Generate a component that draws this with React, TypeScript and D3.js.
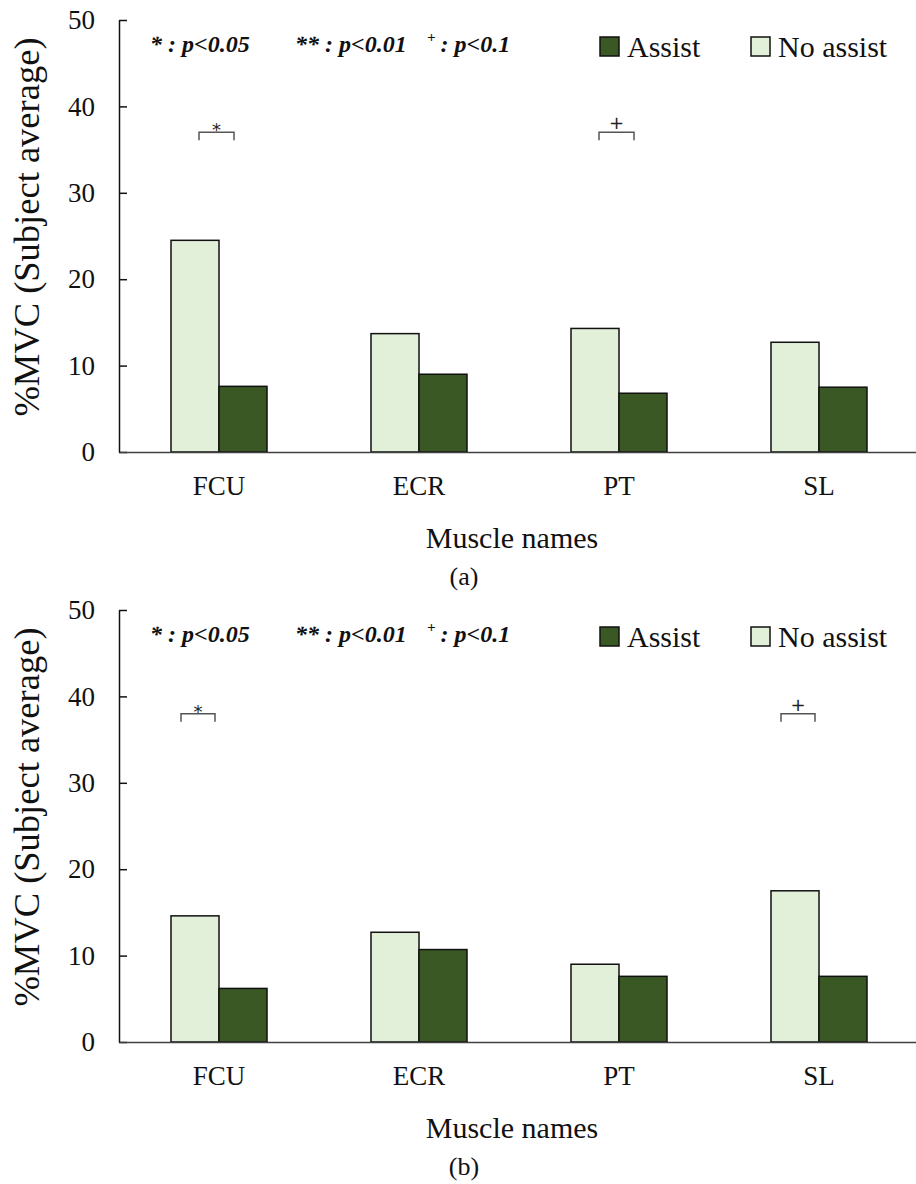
import React, {useEffect, useRef} from 'react';
import * as d3 from 'd3';

const muscles = ['FCU', 'ECR', 'PT', 'SL'];
const seriesNames = ['No assist', 'Assist'];
const noAssistA = [24.5, 13.7, 14.3, 12.7];
const assistA = [7.6, 9.0, 6.8, 7.5];
const noAssistB = [14.6, 12.7, 9.0, 17.5];
const assistB = [6.2, 10.7, 7.6, 7.6];
const yTicks = [0, 10, 20, 30, 40, 50];
const sigA = [{muscle: 'FCU', mark: '*', level: 37}, {muscle: 'PT', mark: '+', level: 37}];
const sigB = [{muscle: 'FCU', mark: '*', level: 38}, {muscle: 'SL', mark: '+', level: 38}];

const serif = '"Liberation Serif", "Times New Roman", serif';
const colors: Record<string, string> = {'No assist': '#E2EFD9', 'Assist': '#3A5824'};

interface PanelCfg {
    noAssist: number[];
    assist: number[];
    sig: {muscle: string; mark: string; level: number}[];
    top: number;
    caption: string;
    bracket: [number, number];
}

const panels: PanelCfg[] = [
    {noAssist: noAssistA, assist: assistA, sig: sigA, top: 0, caption: '(a)', bracket: [-20, 15]},
    {noAssist: noAssistB, assist: assistB, sig: sigB, top: 590, caption: '(b)', bracket: [-38, -4]},
];

const App: React.FC = () => {
    const svgRef = useRef<SVGSVGElement | null>(null);

    useEffect(() => {
        const svg = d3.select(svgRef.current);
        svg.selectAll('*').remove();
        const left = 119, right = 919, plotTop = 20, plotBottom = 452;

        panels.forEach(p => {
            const g = svg.append('g').attr('transform', `translate(0, ${p.top})`);

            const x = d3.scaleBand().domain(muscles).range([left, right]);
            const xSub = d3.scaleBand().domain(seriesNames).range([-48, 48]);
            const y = d3.scaleLinear().domain([0, 50]).range([plotBottom, plotTop]);

            // bars
            const rows = muscles.map((m, i) => ({muscle: m, 'No assist': p.noAssist[i], 'Assist': p.assist[i]}));
            rows.forEach(r => {
                const c = x(r.muscle)! + x.bandwidth() / 2;
                seriesNames.forEach(s => {
                    const v = (r as any)[s] as number;
                    g.append('rect')
                        .attr('x', c + xSub(s)!)
                        .attr('y', y(v))
                        .attr('width', xSub.bandwidth())
                        .attr('height', y(0) - y(v))
                        .attr('fill', colors[s])
                        .attr('stroke', '#111')
                        .attr('stroke-width', 1.5);
                });
            });

            // y axis
            const yAxis = g.append('g')
                .attr('transform', `translate(${left}, 0)`)
                .call(d3.axisLeft(y).tickValues(yTicks).tickSize(-8).tickPadding(24).tickSizeOuter(0));
            yAxis.select('.domain').attr('stroke', '#111').attr('stroke-width', 1.5);
            yAxis.selectAll('.tick line').attr('stroke', '#111').attr('stroke-width', 1.5);
            yAxis.selectAll('.tick text')
                .attr('font-family', serif).attr('font-size', 27).attr('fill', '#111');

            // x axis
            const xAxis = g.append('g')
                .attr('transform', `translate(0, ${plotBottom})`)
                .call(d3.axisBottom(x).tickSize(0).tickPadding(24));
            xAxis.select('.domain').attr('stroke', '#404040').attr('stroke-width', 1.5);
            xAxis.selectAll('.tick text')
                .attr('font-family', serif).attr('font-size', 27).attr('fill', '#111');

            // axis titles
            g.append('text')
                .attr('transform', `translate(39, 227) rotate(-90)`)
                .attr('text-anchor', 'middle')
                .attr('font-family', serif).attr('font-size', 36.5).attr('fill', '#111')
                .text('%MVC (Subject average)');
            g.append('text')
                .attr('x', 512).attr('y', 548)
                .attr('text-anchor', 'middle')
                .attr('font-family', serif).attr('font-size', 30).attr('fill', '#111')
                .text('Muscle names');
            g.append('text')
                .attr('x', 464).attr('y', 585)
                .attr('text-anchor', 'middle')
                .attr('font-family', serif).attr('font-size', 26).attr('fill', '#111')
                .text(p.caption);

            // significance notes
            const note = (xPos: number, sup: string, rest: string) => {
                const t = g.append('text')
                    .attr('x', xPos).attr('y', 52)
                    .attr('font-family', serif).attr('font-size', 24)
                    .attr('font-weight', 'bold').attr('font-style', 'italic').attr('fill', '#111');
                if (sup) {
                    t.append('tspan').attr('font-size', 15).attr('dy', -10).text(sup);
                    t.append('tspan').attr('dy', 10).attr('dx', 5).text(rest);
                } else {
                    t.text(rest);
                }
            };
            note(150, '', '* : p<0.05');
            note(295, '', '** : p<0.01');
            note(427, '+', ': p<0.1');

            // legend
            const legend = [{name: 'Assist', x: 600}, {name: 'No assist', x: 751}];
            legend.forEach(l => {
                g.append('rect')
                    .attr('x', l.x).attr('y', 37).attr('width', 19).attr('height', 19)
                    .attr('fill', colors[l.name]).attr('stroke', '#111').attr('stroke-width', 1.5);
                g.append('text')
                    .attr('x', l.x + 27).attr('y', 57)
                    .attr('font-family', serif).attr('font-size', 30).attr('fill', '#111')
                    .text(l.name);
            });

            // brackets
            p.sig.forEach(s => {
                const c = x(s.muscle)! + x.bandwidth() / 2;
                const x0 = c + p.bracket[0], x1 = c + p.bracket[1];
                const yb = y(s.level);
                g.append('path')
                    .attr('d', `M${x0},${yb + 8}V${yb}H${x1}V${yb + 8}`)
                    .attr('fill', 'none').attr('stroke', '#555').attr('stroke-width', 1.5);
                g.append('text')
                    .attr('x', (x0 + x1) / 2).attr('y', s.mark === '*' ? yb + 4 : yb - 3)
                    .attr('text-anchor', 'middle')
                    .attr('font-family', '"DejaVu Sans", sans-serif').attr('font-size', 18).attr('fill', '#222')
                    .text(s.mark);
            });
        });
    }, []);

    return <svg ref={svgRef} width={916} height={1184}
                style={{position: 'absolute', left: 0, top: 0, background: '#fff'}}></svg>;
};

export default App;
